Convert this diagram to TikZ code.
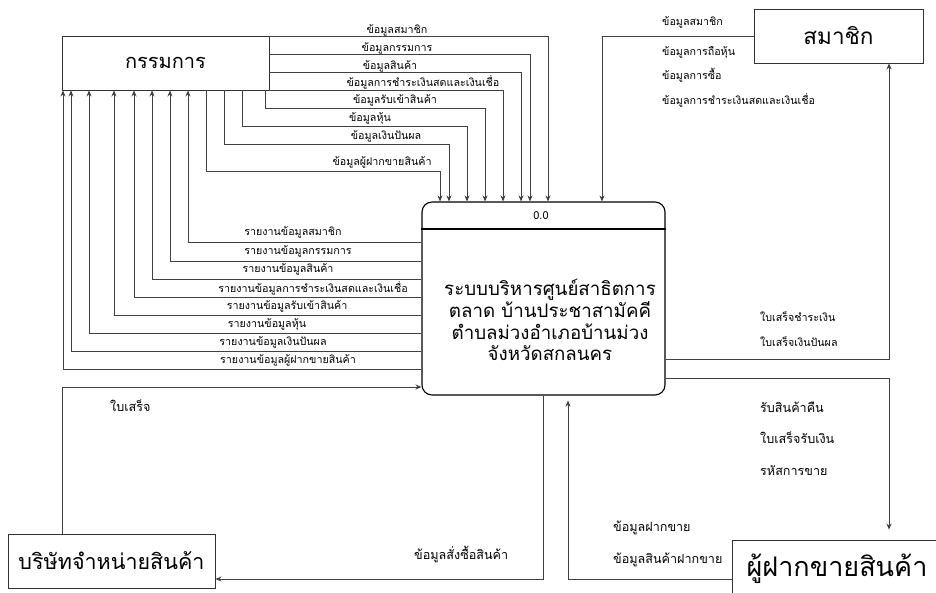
\documentclass[tikz,border=0pt]{standalone}
\usepackage{fontspec}
\setmainfont[Script=Thai]{Loma}
\usetikzlibrary{arrows.meta}

\begin{document}
\begin{tikzpicture}[x=1pt, y=-1pt]
\tikzstyle{ent}=[draw=black!80, line width=0.9pt, inner sep=0pt, font=\fontsize{20}{24}\selectfont]
\tikzstyle{proc}=[draw=black, line width=1.1pt, rounded corners=10pt, inner sep=0pt]
\tikzstyle{flow}=[draw=black!75, line width=0.8pt, -{Stealth[length=6pt, width=5pt]}]
\tikzstyle{lbl}=[inner sep=1pt, font=\fontsize{10.7}{12}\selectfont]
\tikzstyle{lblr}=[lbl, anchor=west, font=\fontsize{12.6}{14}\selectfont]
\useasboundingbox[fill=white] (0,0) rectangle (936,592);
\node[ent, minimum width=207pt, minimum height=54pt] (kam) at (165.5,63) {กรรมการ};
\node[ent, minimum width=169pt, minimum height=54pt, font=\fontsize{22.5}{26}\selectfont] (mem) at (838.5,36) {สมาชิก};
\node[ent, minimum width=207pt, minimum height=54pt, font=\fontsize{21.5}{25}\selectfont] (comp) at (111.5,561) {บริษัทจำหน่ายสินค้า};
\node[ent, minimum width=210pt, minimum height=58pt, font=\fontsize{27}{30}\selectfont] (cons) at (837,569) {ผู้ฝากขายสินค้า};
\node[proc, minimum width=243pt, minimum height=193pt] (sys) at (543.5,298.5) {};
\draw[black, line width=1.1pt] (sys.west |- 0,229) -- (sys.east |- 0,229);
\node[font=\fontsize{11}{13}\selectfont] (sysid) at (541,216) {0.0};
\node[align=center, font=\fontsize{18.7}{21.7}\selectfont] (sysname) at (550,320) {ระบบบริหารศูนย์สาธิตการ\\ตลาด บ้านประชาสามัคคี\\ตำบลม่วงอำเภอบ้านม่วง\\จังหวัดสกลนคร};
\draw[flow] (kam.east |- 0,36) -| (sys.north -| 548,0);
\draw[flow] (kam.east |- 0,54) -| (sys.north -| 530,0);
\draw[flow] (kam.east |- 0,72) -| (sys.north -| 521,0);
\draw[flow] (kam.east |- 0,90) -| (sys.north -| 503,0);
\draw[flow] (kam.south -| 265,0) |- (485,108) -| (sys.north -| 485,0);
\draw[flow] (kam.south -| 242,0) |- (467,126) -| (sys.north -| 467,0);
\draw[flow] (kam.south -| 224,0) |- (449,144) -| (sys.north -| 449,0);
\draw[flow] (kam.south -| 206,0) |- (440,171) -| (sys.north -| 440,0);
\node[lbl] (d1) at (397,30) {ข้อมูลสมาชิก};
\node[lbl] (d2) at (397,48) {ข้อมูลกรรมการ};
\node[lbl] (d3) at (390,66) {ข้อมูลสินค้า};
\node[lbl] (d4) at (423,82) {ข้อมูลการชำระเงินสดและเงินเชื่อ};
\node[lbl] (d5) at (395,100) {ข้อมูลรับเข้าสินค้า};
\node[lbl] (d6) at (370,118) {ข้อมูลหุ้น};
\node[lbl] (d7) at (386,136) {ข้อมูลเงินปันผล};
\node[lbl] (d8) at (382,162) {ข้อมูลผู้ฝากขายสินค้า};
\draw[flow] (sys.west |- 0,242) -| (kam.south -| 188,0);
\draw[flow] (sys.west |- 0,261) -| (kam.south -| 170,0);
\draw[flow] (sys.west |- 0,279) -| (kam.south -| 152,0);
\draw[flow] (sys.west |- 0,297) -| (kam.south -| 134,0);
\draw[flow] (sys.west |- 0,315) -| (kam.south -| 114,0);
\draw[flow] (sys.west |- 0,333) -| (kam.south -| 89,0);
\draw[flow] (sys.west |- 0,351) -| (kam.south -| 71,0);
\draw[flow] (sys.west |- 0,369) -| (kam.south -| 63,0);
\node[lbl] (r1) at (293,232) {รายงานข้อมูลสมาชิก};
\node[lbl] (r2) at (298,251) {รายงานข้อมูลกรรมการ};
\node[lbl] (r3) at (288,269) {รายงานข้อมูลสินค้า};
\node[lbl] (r4) at (313,288) {รายงานข้อมูลการชำระเงินสดและเงินเชื่อ};
\node[lbl] (r5) at (287,306) {รายงานข้อมูลรับเข้าสินค้า};
\node[lbl] (r6) at (267,324) {รายงานข้อมูลหุ้น};
\node[lbl] (r7) at (273,342) {รายงานข้อมูลเงินปันผล};
\node[lbl] (r8) at (288,360) {รายงานข้อมูลผู้ฝากขายสินค้า};
\draw[flow] (mem.west) -| (sys.north -| 602,0);
\node[lbl, anchor=west] (m1) at (661,22) {ข้อมูลสมาชิก};
\node[lbl, anchor=west] (m2) at (661,52) {ข้อมูลการถือหุ้น};
\node[lbl, anchor=west] (m3) at (661,75) {ข้อมูลการซื้อ};
\node[lbl, anchor=west] (m4) at (661,100) {ข้อมูลการชำระเงินสดและเงินเชื่อ};
\draw[flow] (sys.east |- 0,359) -| (mem.south -| 889,0);
\node[lbl, anchor=west] (p1) at (759,317) {ใบเสร็จชำระเงิน};
\node[lbl, anchor=west] (p2) at (759,342) {ใบเสร็จเงินปันผล};
\draw[flow, shorten >=10pt] (sys.east |- 0,378) -| (cons.north -| 889,0);
\node[lblr] (s1) at (759,407) {รับสินค้าคืน};
\node[lblr] (s2) at (759,438) {ใบเสร็จรับเงิน};
\node[lblr] (s3) at (759,470) {รหัสการขาย};
\draw[flow, shorten >=5pt] (cons.west |- 0,579) -| (sys.south -| 568,0);
\node[lblr] (c1) at (612,528) {ข้อมูลฝากขาย};
\node[lblr] (c2) at (612,560) {ข้อมูลสินค้าฝากขาย};
\draw[flow] (sys.south -| 543,0) |- (comp.east |- 0,579);
\node[lblr] (o1) at (413,554) {ข้อมูลสั่งซื้อสินค้า};
\draw[flow] (comp.north -| 62,0) |- (sys.west |- 0,387);
\node[lblr] (o2) at (109,406) {ใบเสร็จ};
\end{tikzpicture}
\end{document}
